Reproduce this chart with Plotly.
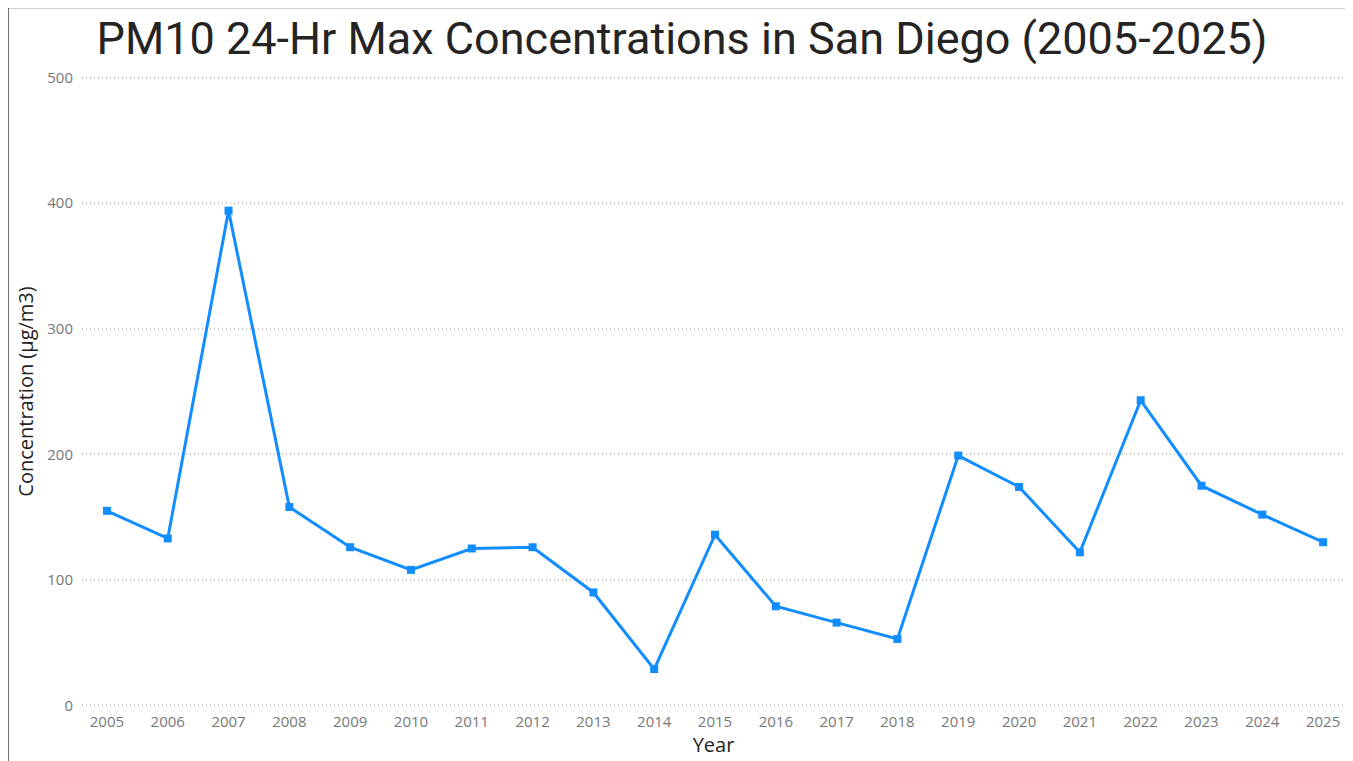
import plotly.graph_objects as go

years = list(range(2005, 2026))
values = [155, 133, 394, 158, 126, 108, 125, 126, 90, 29, 136, 79, 66, 53, 199, 174, 122, 243, 175, 152, 130]
y_ticks = [0, 100, 200, 300, 400, 500]

W, H = 1345, 753
PAD = 2.0            # small range padding so the 0 and 500 gridlines are drawn
PXU = 627 / 500      # pixels per unit
L, R = 74, 8
T = 70 - PAD * PXU
B = 56 - PAD * PXU
PW, PH = W - L - R, H - T - B

fig = go.Figure()
fig.add_trace(go.Scatter(
    x=years, y=values, mode="lines+markers",
    line=dict(color="#118DFF", width=3),
    marker=dict(symbol="square", size=8, color="#118DFF"),
    showlegend=False,
))

fig.update_layout(
    width=W, height=H,
    paper_bgcolor="white", plot_bgcolor="white",
    margin=dict(l=L, r=R, t=T, b=B, pad=0),
    title=dict(text="PM10 24-Hr Max Concentrations in San Diego (2005-2025)",
               x=(682 - 8) / W, xanchor="center", y=1 - (38 - 8) / H, yanchor="middle",
               font=dict(family="Roboto", size=45, color="#252423")),
    font=dict(family="Open Sans, Noto Sans, sans-serif"),
)
fig.update_xaxes(
    range=[2004.59, 2025.36], tickmode="array", tickvals=years,
    ticktext=[str(y) for y in years], showgrid=False, zeroline=False,
    showline=False, ticks="", ticklabelstandoff=3,
    tickfont=dict(size=15, color="#777777"),
    title=dict(text="Year", font=dict(size=20, color="#252423"), standoff=6),
)
fig.update_yaxes(
    range=[-PAD, 500 + PAD], tickmode="array", tickvals=y_ticks,
    showgrid=True, gridcolor="#C8C8C8", griddash="1px,3px", gridwidth=1.5,
    zeroline=False, showline=False, ticks="", ticklabelstandoff=8,
    tickfont=dict(size=15, color="#777777"),
    title=dict(text="Concentration (µg/m3)", font=dict(size=20, color="#252423"), standoff=8),
)
fig.add_shape(type="rect", xref="paper", yref="paper",
              x0=-L / PW, x1=1 + (R - 3) / PW, y0=-(B + 20) / PH, y1=1 + T / PH,
              line=dict(color="#444444", width=1.5), fillcolor="rgba(0,0,0,0)")

fig.write_html("out.html")
